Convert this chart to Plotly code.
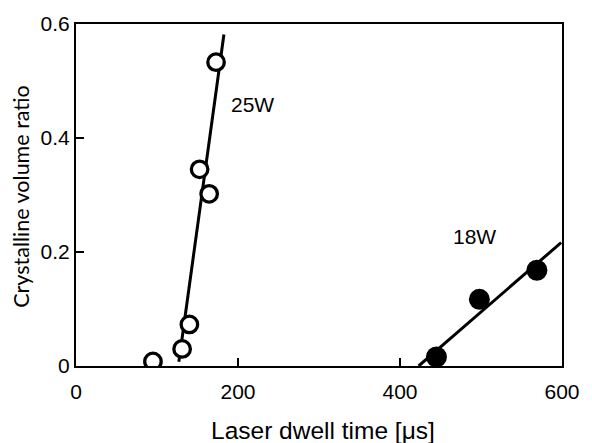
import plotly.graph_objects as go

# 25W (open circles)
x25 = [95, 131, 140, 152.6, 164.4, 172.9]
y25 = [0.008, 0.030, 0.073, 0.345, 0.302, 0.533]
fit25_x = [127, 182.6]
fit25_y = [0.0075, 0.5815]

# 18W (filled circles)
x18 = [445, 498, 569]
y18 = [0.016, 0.117, 0.168]
fit18_x = [423, 599]
fit18_y = [0.0, 0.2166]

x_ticks = [0, 200, 400, 600]
x_ticklabels = ["0", "200", "400", "600"]
y_ticks = [0, 0.2, 0.4, 0.6]
y_ticklabels = ["0", "0.2", "0.4", "0.6"]

fig = go.Figure()
fig.add_trace(go.Scatter(x=fit25_x, y=fit25_y, mode="lines",
                         line=dict(color="black", width=3), showlegend=False))
fig.add_trace(go.Scatter(x=fit18_x, y=fit18_y, mode="lines",
                         line=dict(color="black", width=3), showlegend=False))
fig.add_trace(go.Scatter(x=x25, y=y25, mode="markers",
                         marker=dict(symbol="circle", size=16.5, color="white",
                                     line=dict(color="black", width=3.3)),
                         showlegend=False))
fig.add_trace(go.Scatter(x=x18, y=y18, mode="markers",
                         marker=dict(symbol="circle", size=21, color="black",
                                     line=dict(color="black", width=0)),
                         showlegend=False))

fig.add_annotation(x=218, y=0.459, text="25W", showarrow=False,
                   font=dict(family="Liberation Sans, Arial", size=21, color="black"))
fig.add_annotation(x=492, y=0.2266, text="18W", showarrow=False,
                   font=dict(family="Liberation Sans, Arial", size=21, color="black"))

fig.add_annotation(xref="paper", yref="paper", x=0.508, y=-0.19,
                   text="Laser dwell time [μs]", showarrow=False,
                   xanchor="center", yanchor="middle",
                   font=dict(family="Liberation Sans, Arial", size=24.5, color="black"))
fig.add_annotation(xref="paper", yref="paper", x=-0.113, y=0.495,
                   text="Crystalline volume ratio", showarrow=False, textangle=-90,
                   xanchor="center", yanchor="middle",
                   font=dict(family="Lato", size=21.5, color="black"))

fig.update_xaxes(range=[0, 600], tickvals=x_ticks, ticktext=x_ticklabels,
                 ticks="inside", ticklen=8, tickwidth=2, tickcolor="black",
                 showline=True, linecolor="black", linewidth=2, mirror=True,
                 showgrid=False, zeroline=False, ticklabelstandoff=6,
                 tickfont=dict(family="Liberation Sans, Arial", size=21, color="black"))
fig.update_yaxes(range=[0, 0.6], tickvals=y_ticks, ticktext=y_ticklabels,
                 ticks="inside", ticklen=8, tickwidth=2, tickcolor="black",
                 showline=True, linecolor="black", linewidth=2, mirror=True,
                 showgrid=False, zeroline=False,
                 tickfont=dict(family="Liberation Sans, Arial", size=21, color="black"))

fig.update_layout(width=592, height=443, plot_bgcolor="white", paper_bgcolor="white",
                  margin=dict(l=75.5, r=23, t=21.7, b=77), showlegend=False)

fig.write_html("out.html", config={"displayModeBar": False},
               post_script="document.body.style.margin='0';document.body.style.overflow='hidden';")
